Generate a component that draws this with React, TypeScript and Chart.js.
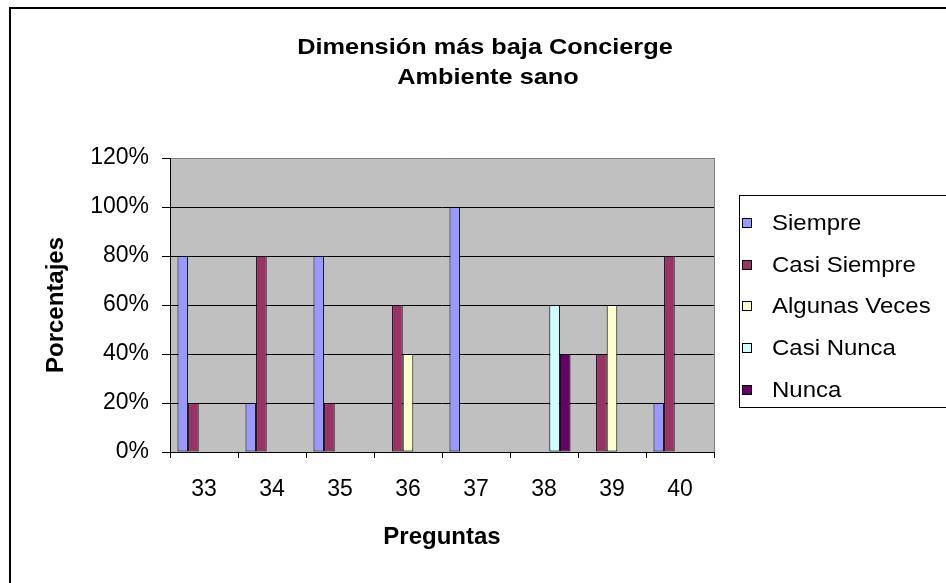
import React, { useEffect, useRef } from 'react';
import { Chart, registerables } from 'chart.js';

Chart.register(...registerables);

const categories = ['33', '34', '35', '36', '37', '38', '39', '40'];
const siempre = [80, 20, 80, 0, 100, 0, 0, 20];
const casiSiempre = [20, 80, 20, 60, 0, 0, 40, 80];
const algunasVeces = [0, 0, 0, 40, 0, 0, 60, 0];
const casiNunca = [0, 0, 0, 0, 0, 60, 0, 0];
const nunca = [0, 0, 0, 0, 0, 40, 0, 0];

const seriesNames = ['Siempre', 'Casi Siempre', 'Algunas Veces', 'Casi Nunca', 'Nunca'];
const seriesColors = ['#9999FF', '#993366', '#FFFFCC', '#CCFFFF', '#660066'];
const seriesValues = [siempre, casiSiempre, algunasVeces, casiNunca, nunca];

const titleLines = ['Dimensión más baja Concierge', 'Ambiente sano'];
const yAxisTitle = 'Porcentajes';
const xAxisTitle = 'Preguntas';
const yMin = 0;
const yMax = 120;
const yStep = 20;

const FONT = "'Liberation Sans', Arial, Helvetica, sans-serif";

function stretchedText(ctx: any, text: string, x: number, y: number, sx: number) {
  ctx.save();
  ctx.translate(x, y);
  ctx.scale(sx, 1);
  ctx.fillText(text, 0, 0);
  ctx.restore();
}

const decorPlugin = {
  id: 'decor',
  beforeDraw(chart: any) {
    const { ctx, chartArea } = chart;
    ctx.save();
    ctx.fillStyle = '#FFFFFF';
    ctx.fillRect(0, 0, chart.width, chart.height);
    ctx.fillStyle = '#C0C0C0';
    ctx.fillRect(chartArea.left, chartArea.top, chartArea.right - chartArea.left, chartArea.bottom - chartArea.top);
    ctx.restore();
  },
  beforeDatasetsDraw(chart: any) {
    const { ctx, chartArea } = chart;
    ctx.save();
    ctx.strokeStyle = '#808080';
    ctx.lineWidth = 1;
    ctx.beginPath();
    ctx.moveTo(Math.round(chartArea.right) + 0.5, chartArea.top);
    ctx.lineTo(Math.round(chartArea.right) + 0.5, chartArea.bottom);
    ctx.stroke();
    ctx.restore();
  },
  afterDraw(chart: any) {
    const { ctx } = chart;
    ctx.save();
    // outer border
    ctx.strokeStyle = '#000000';
    ctx.lineWidth = 2;
    ctx.strokeRect(10, 8, 980, 620);

    // title
    ctx.fillStyle = '#000000';
    ctx.font = `bold 22px ${FONT}`;
    ctx.textAlign = 'center';
    ctx.textBaseline = 'alphabetic';
    stretchedText(ctx, titleLines[0], 485, 54, 1.15);
    stretchedText(ctx, titleLines[1], 488, 84, 1.15);

    // legend
    ctx.lineWidth = 1;
    ctx.strokeStyle = '#000000';
    ctx.strokeRect(739.5, 195.5, 260, 212);
    const datasets = chart.data.datasets;
    ctx.font = `22px ${FONT}`;
    ctx.textAlign = 'left';
    ctx.textBaseline = 'middle';
    datasets.forEach((ds: any, i: number) => {
      const cy = Math.round(223 + i * 41.7);
      ctx.fillStyle = ds.backgroundColor;
      ctx.fillRect(742, cy - 5, 10, 10);
      ctx.strokeStyle = '#000000';
      ctx.lineWidth = 1;
      ctx.strokeRect(742.5, cy - 4.5, 9, 9);
      ctx.fillStyle = '#000000';
      stretchedText(ctx, ds.label, 772, cy + 1, 1.09);
    });
    ctx.restore();
  },
};

export default function App() {
  const canvasRef = useRef<HTMLCanvasElement | null>(null);

  useEffect(() => {
    const canvas = canvasRef.current;
    if (!canvas) return;
    const chart = new Chart(canvas, {
      type: 'bar',
      data: {
        labels: categories,
        datasets: seriesNames.map((name, i) => ({
          label: name,
          data: seriesValues[i],
          backgroundColor: seriesColors[i],
          borderColor: '#000000',
          borderWidth: 1,
          borderSkipped: false,
          inflateAmount: 0,
          categoryPercentage: 0.78,
          barPercentage: 1,
        })),
      },
      options: {
        animation: false,
        responsive: false,
        devicePixelRatio: 1,
        layout: { padding: { left: 39, right: 232, top: 158, bottom: 28 } },
        plugins: {
          legend: { display: false },
          title: { display: false },
          tooltip: { enabled: false },
        },
        scales: {
          x: {
            offset: true,
            grid: {
              offset: true,
              drawOnChartArea: false,
              drawTicks: true,
              tickLength: 6,
              color: '#000000',
            },
            border: { display: true, color: '#000000', width: 1 },
            ticks: {
              color: '#000000',
              font: { family: FONT, size: 23 },
              padding: 18,
              maxRotation: 0,
            },
            title: {
              display: true,
              text: xAxisTitle,
              color: '#000000',
              font: { family: FONT, size: 24, weight: 'bold' },
              padding: { top: 4, bottom: 3 },
            },
            afterFit: (s: any) => {
              s.height = 103;
            },
          },
          y: {
            min: yMin,
            max: yMax,
            grid: {
              color: (c: any) => (c.tick && c.tick.value === yMax ? '#808080' : '#000000'),
              tickColor: '#000000',
              tickLength: 8,
              lineWidth: 1,
            },
            border: { display: true, color: '#000000', width: 1 },
            ticks: {
              stepSize: yStep,
              color: '#000000',
              font: { family: FONT, size: 23 },
              padding: 13,
              callback: (v: any) => `${v}%`,
            },
            title: {
              display: true,
              text: yAxisTitle,
              color: '#000000',
              font: { family: FONT, size: 24, weight: 'bold' },
              padding: { top: 3, bottom: 4 },
            },
            afterFit: (s: any) => {
              s.width = 131;
            },
          },
        },
      },
      plugins: [decorPlugin],
    } as any);
    return () => chart.destroy();
  }, []);

  return (
    <div style={{ position: 'fixed', left: 0, top: 0, width: 946, height: 583, background: '#fff' }}>
      <canvas ref={canvasRef} width={946} height={583} style={{ width: 946, height: 583, display: 'block' }} />
    </div>
  );
}
